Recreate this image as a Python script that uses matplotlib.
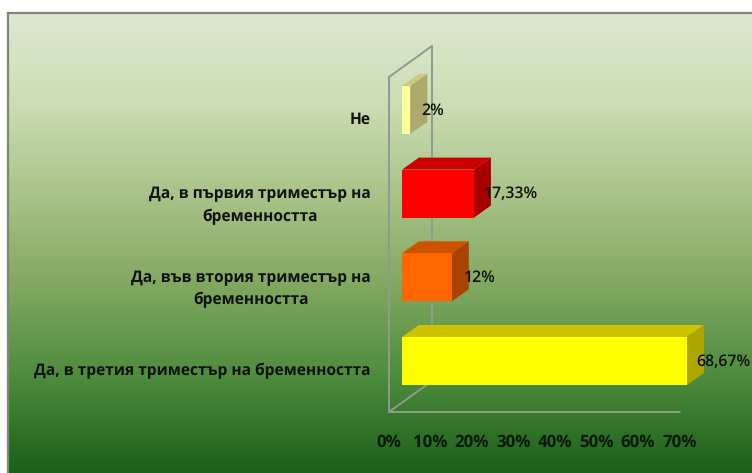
"""Horizontal 3D-look bar chart on a green gradient panel."""

import matplotlib.pyplot as plt
import numpy as np
from matplotlib.colors import LinearSegmentedColormap
from matplotlib.patches import Polygon

categories = [
    "Да, в третия триместър на бременността",
    "Да, във втория триместър на\nбременността",
    "Да, в първия триместър на\nбременността",
    "Не",
]
values = [68.67, 12, 17.33, 2]
value_labels = ["68,67%", "12%", "17,33%", "2%"]
ticks = [0, 10, 20, 30, 40, 50, 60, 70]

front_colors = ["#FFFF00", "#FF6600", "#FF0000", "#FFFF99"]
top_colors = ["#CCC400", "#CC5200", "#CC0000", "#CCCC7A"]
side_colors = ["#ADA600", "#A84400", "#A80000", "#ABA96C"]
label_offsets = [(2.2, -0.01), (2.9, -0.005), (2.4, -0.005), (2.7, -0.01)]
category_offsets = [-0.12, -0.14, -0.14, -0.12]

W, H = 752, 473
PX_X = 4.15  # pixels per percent
PX_Y = 83.7  # pixels per category
DX = 17 / PX_X
DY = 12 / PX_Y
BAR_H = 48 / PX_Y
WALL_X = -13 / PX_X
WALL_DX = 43 / PX_X
WALL_DY = 31 / PX_Y
FLOOR_Y = -51 / PX_Y
WALL_TOP = 284 / PX_Y

plt.rcParams["font.family"] = ["Open Sans", "DejaVu Sans"]
plt.rcParams["text.hinting"] = "none"
fig = plt.figure(figsize=(W / 100, H / 100), dpi=100, facecolor="white")

bg = fig.add_axes([8 / W, 0, 1 - 8 / W, 1 - 13 / H])
stops = ["#DDE9CF", "#CBDDB4", "#A8C287", "#7FA75F", "#4C8A3C", "#1B5F18"]
cmap = LinearSegmentedColormap.from_list("panel", stops)
bg.imshow(np.linspace(0, 1, 256)[:, None], aspect="auto", cmap=cmap)
bg.set_xticks([])
bg.set_yticks([])
for side in ["right", "bottom"]:
    bg.spines[side].set_visible(False)
for side in ["left", "top"]:
    bg.spines[side].set_color("#80857A")
    bg.spines[side].set_linewidth(1.6)

ax = fig.add_axes([0, 0, 1, 1], facecolor="none")
ax.set_xlim(-402 / PX_X, (W - 402) / PX_X)
ax.set_ylim((361 - H) / PX_Y, 361 / PX_Y)
ax.axis("off")

wall = "#8F9A94"
ax.plot(
    [WALL_X, WALL_X, WALL_X + WALL_DX, WALL_X + WALL_DX],
    [FLOOR_Y, WALL_TOP, WALL_TOP + WALL_DY, FLOOR_Y + WALL_DY],
    color=wall, linewidth=1.4, zorder=1,
)
ax.plot(
    [WALL_X + WALL_DX, WALL_X, WALL_X + 70],
    [FLOOR_Y + WALL_DY, FLOOR_Y, FLOOR_Y],
    color="#8E9E88", linewidth=1.4, zorder=1,
)

for i, value in enumerate(values):
    low, high = i - BAR_H / 2, i + BAR_H / 2
    ax.add_patch(Polygon(
        [(0, high), (DX, high + DY), (value + DX, high + DY), (value, high)],
        closed=True, color=top_colors[i], linewidth=0, zorder=2,
    ))
    ax.add_patch(Polygon(
        [(value, low), (value + DX, low + DY), (value + DX, high + DY), (value, high)],
        closed=True, color=side_colors[i], linewidth=0, zorder=2,
    ))
    ax.barh(i, value, height=BAR_H, left=0, color=front_colors[i], linewidth=0, zorder=3)
    ax.text(value + label_offsets[i][0], i + label_offsets[i][1], value_labels[i],
            ha="left", va="center", fontsize=11.4, fontweight="semibold",
            color="#111111", zorder=4)
    ax.text(-31 / PX_X, i + category_offsets[i], categories[i],
            ha="right", va="center", multialignment="center",
            fontsize=11.2, fontweight="bold", color="#111111", linespacing=1.55)

for tick in ticks:
    ax.text(tick + WALL_X, -81 / PX_Y, f"{tick}%", ha="center", va="center",
            fontsize=12.2, fontweight="bold", color="#0C1A0C")

fig.savefig("out.png", dpi=100)
plt.close(fig)
